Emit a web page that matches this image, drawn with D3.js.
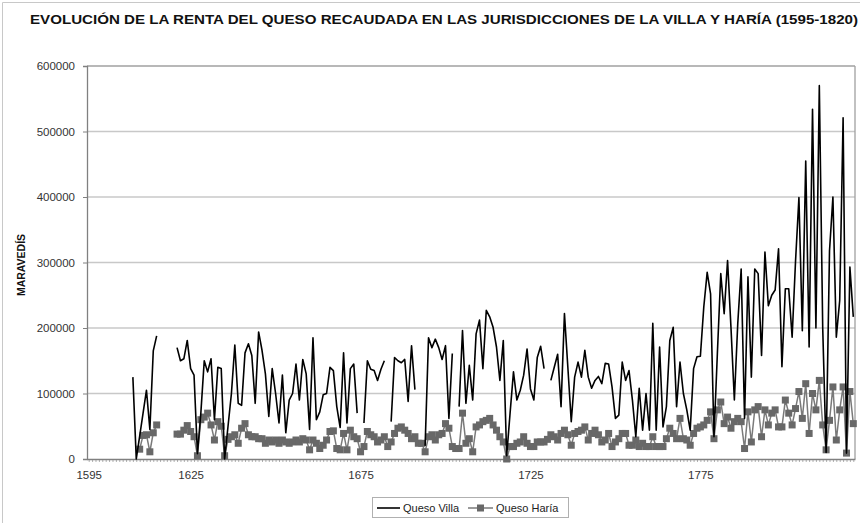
<!DOCTYPE html>
<html><head><meta charset="utf-8">
<script src="https://cdn.jsdelivr.net/npm/d3@7"></script>
<style>
html,body{margin:0;padding:0;background:#fff;}
svg{display:block;font-family:"Liberation Sans",Arial,sans-serif;}
</style></head>
<body><svg id="chart" width="860" height="523"></svg>
<script>
// ---- DATA ----
const firstYear = 1595, lastYear = 1820;
const years = d3.range(firstYear, lastYear + 1);
const xTickLabels = [1595, 1625, 1675, 1725, 1775];
const yTicks = [0, 100000, 200000, 300000, 400000, 500000, 600000];
const seriesNames = ["Queso Villa", "Queso Haría"];

// Queso Villa, 1595..1820 (null = no data)
const quesoVilla = [
  null,null,null,null,null,null,null,null,null,null,               // 1595-1604
  null,null,null,125000,0,35000,70000,105000,45000,165000,         // 1605-1614
  188000,null,null,null,null,null,170000,150000,153000,181000,     // 1615-1624
  138000,128000,8000,70000,150000,133000,153000,60000,140000,138000, // 1625-1634
  0,50000,100000,174000,85000,82000,162000,176000,158000,85000,    // 1635-1644
  194000,166000,130000,65000,138000,100000,55000,128000,40000,90000, // 1645-1654
  100000,145000,90000,152000,130000,45000,185000,60000,72000,98000, // 1655-1664
  100000,140000,135000,80000,48000,162000,55000,138000,145000,70000, // 1665-1674
  null,55000,150000,137000,135000,120000,137000,150000,null,57000, // 1675-1684
  155000,150000,147000,152000,88000,173000,106000,null,null,20000, // 1685-1694
  185000,170000,183000,170000,152000,173000,62000,161000,null,80000, // 1695-1704
  196000,85000,143000,90000,191000,212000,138000,227000,217000,201000, // 1705-1714
  171000,120000,181000,5000,70000,133000,90000,105000,128000,168000, // 1715-1724
  107000,90000,155000,172000,138000,null,120000,140000,160000,80000, // 1725-1734
  222000,140000,57000,125000,148000,125000,166000,125000,108000,120000, // 1735-1744
  126000,115000,146000,145000,110000,62000,67000,148000,120000,135000, // 1745-1754
  90000,34000,108000,44000,100000,44000,207000,44000,171000,49000,  // 1755-1764
  80000,181000,201000,80000,148000,100000,75000,44000,138000,156000, // 1765-1774
  157000,232000,285000,252000,34000,161000,283000,222000,303000,201000, // 1775-1784
  90000,207000,290000,62000,278000,125000,290000,283000,158000,316000, // 1785-1794
  234000,250000,258000,321000,141000,260000,260000,186000,302000,399000, // 1795-1804
  196000,455000,171000,534000,200000,570000,200000,10000,318000,400000, // 1805-1814
  186000,242000,521000,9000,293000,217000                           // 1815-1820
];

// Queso Haría, 1595..1820 (null = no data)
const quesoHaria = [
  null,null,null,null,null,null,null,null,null,null,               // 1595-1604
  null,null,null,null,null,15000,36000,37000,11000,40000,          // 1605-1614
  52000,null,null,null,null,null,38000,38000,44000,51000,          // 1615-1624
  42000,34000,5000,60000,64000,70000,52000,29000,57000,50000,      // 1625-1634
  5000,30000,34000,37000,24000,47000,54000,37000,34000,34000,      // 1635-1644
  31000,31000,24000,29000,26000,29000,24000,29000,26000,24000,     // 1645-1654
  26000,29000,26000,31000,29000,14000,29000,24000,16000,21000,     // 1655-1664
  29000,42000,43000,16000,14000,39000,14000,44000,34000,31000,     // 1665-1674
  11000,19000,42000,37000,34000,26000,29000,34000,19000,26000,     // 1675-1684
  39000,47000,49000,44000,39000,31000,34000,24000,24000,11000,     // 1685-1694
  34000,37000,29000,37000,39000,54000,47000,19000,16000,16000,     // 1695-1704
  70000,24000,31000,11000,49000,52000,57000,59000,62000,52000,     // 1705-1714
  44000,34000,26000,0,19000,19000,24000,26000,34000,24000,         // 1715-1724
  19000,19000,26000,26000,26000,30000,37000,34000,29000,39000,     // 1725-1734
  44000,37000,21000,39000,42000,44000,49000,29000,39000,44000,     // 1735-1744
  37000,26000,29000,39000,19000,26000,31000,39000,39000,21000,     // 1745-1754
  21000,29000,19000,24000,19000,19000,34000,19000,19000,19000,     // 1755-1764
  31000,47000,39000,31000,62000,31000,29000,21000,39000,47000,     // 1765-1774
  49000,52000,59000,72000,31000,75000,87000,54000,64000,47000,     // 1775-1784
  57000,62000,57000,16000,72000,26000,75000,80000,34000,75000,     // 1785-1794
  52000,70000,75000,49000,49000,90000,70000,52000,77000,103000,    // 1795-1804
  62000,115000,39000,100000,75000,120000,52000,14000,59000,110000, // 1805-1814
  29000,75000,110000,9000,103000,54000                              // 1815-1820
];

// ---- CHART ----
const svg = d3.select("#chart");
const W = 860, H = 523;
const plotL = 87, plotR = 855, plotT = 66, plotB = 459;

// outer frame (top and left edges visible)
svg.append("line").attr("x1",2.5).attr("x2",W).attr("y1",2.5).attr("y2",2.5).attr("stroke","#c8c8c8");
svg.append("line").attr("x1",2.5).attr("x2",2.5).attr("y1",2.5).attr("y2",H).attr("stroke","#c8c8c8");

svg.append("text")
  .attr("x", 30).attr("y", 24)
  .attr("textLength", 828).attr("lengthAdjust","spacingAndGlyphs")
  .style("font-size","13.5px").style("font-weight","bold").attr("fill","#111")
  .text("EVOLUCIÓN DE LA RENTA DEL QUESO RECAUDADA EN LAS JURISDICCIONES DE LA VILLA Y HARÍA (1595-1820)");

const x = d3.scalePoint().domain(years).range([plotL, plotR]).padding(0.5);
const y = d3.scaleLinear().domain([0, 600000]).range([plotB, plotT]);

// gridlines
svg.append("g").selectAll("line").data(yTicks.filter(d => d > 0)).join("line")
  .attr("x1", plotL).attr("x2", plotR)
  .attr("y1", d => y(d)).attr("y2", d => y(d))
  .attr("stroke", d => d === 600000 ? "#a0a0a0" : "#c8c8c8").attr("stroke-width", 1.3);
// right frame
svg.append("line").attr("x1", plotR).attr("x2", plotR).attr("y1", plotT).attr("y2", plotB)
  .attr("stroke","#a0a0a0").attr("stroke-width",1.3);

// y axis
const yAxis = svg.append("g").attr("transform", `translate(${plotL},0)`)
  .call(d3.axisLeft(y).tickValues(yTicks).tickFormat(d3.format("d")).tickSize(4).tickPadding(8));
yAxis.select(".domain").attr("stroke","#808080").attr("stroke-width",1.3);
yAxis.selectAll(".tick line").attr("stroke","#808080");
yAxis.selectAll("text").style("font-size","11.5px").attr("fill","#333")
  .style("font-family","'Liberation Sans',Arial,sans-serif");

// x axis minor ticks at every category
const xMinor = svg.append("g").attr("transform", `translate(0,${plotB})`)
  .call(d3.axisBottom(x).tickValues(years).tickSize(3).tickFormat(""));
xMinor.selectAll(".tick line").attr("stroke","#b0b0b0");
xMinor.select(".domain").remove();
// x axis labels
const xAxis = svg.append("g").attr("transform", `translate(0,${plotB})`)
  .call(d3.axisBottom(x).tickValues(xTickLabels).tickSize(0).tickPadding(12));
xAxis.select(".domain").attr("stroke","#808080").attr("stroke-width",1.3);
xAxis.selectAll("text").style("font-size","11.5px").attr("fill","#333")
  .style("font-family","'Liberation Sans',Arial,sans-serif");

// y title
svg.append("text")
  .attr("transform","translate(25,265) rotate(-90)")
  .attr("text-anchor","middle")
  .style("font-size","10.5px").style("font-weight","bold").attr("fill","#111")
  .text("MARAVEDÍS");

// series
const line = d3.line()
  .defined(d => d.v !== null)
  .x(d => x(d.year)).y(d => y(d.v));
const villaData = years.map((yr, i) => ({year: yr, v: quesoVilla[i]}));
const hariaData = years.map((yr, i) => ({year: yr, v: quesoHaria[i]}));

svg.append("path").datum(hariaData).attr("d", line)
  .attr("fill","none").attr("stroke","#7a7a7a").attr("stroke-width",1.5);
svg.append("g").selectAll("rect").data(hariaData.filter(d => d.v !== null)).join("rect")
  .attr("x", d => x(d.year) - 3.5).attr("y", d => y(d.v) - 3.5)
  .attr("width", 7).attr("height", 7).attr("fill","#686868");

svg.append("path").datum(villaData).attr("d", line)
  .attr("fill","none").attr("stroke","#000").attr("stroke-width",1.6)
  .attr("stroke-linejoin","round");

// legend
const lg = svg.append("g");
lg.append("rect").attr("x",372.5).attr("y",497.5).attr("width",196).attr("height",20)
  .attr("fill","#fff").attr("stroke","#b0b0b0");
lg.append("line").attr("x1",377).attr("x2",400).attr("y1",508).attr("y2",508)
  .attr("stroke","#000").attr("stroke-width",1.6);
lg.append("text").attr("x",403).attr("y",512).style("font-size","11px").attr("fill","#222").text(seriesNames[0]);
lg.append("line").attr("x1",468).attr("x2",493).attr("y1",508).attr("y2",508)
  .attr("stroke","#7a7a7a").attr("stroke-width",1.5);
lg.append("rect").attr("x",477).attr("y",504.5).attr("width",7).attr("height",7).attr("fill","#686868");
lg.append("text").attr("x",496).attr("y",512).style("font-size","11px").attr("fill","#222").text(seriesNames[1]);
</script></body></html>
